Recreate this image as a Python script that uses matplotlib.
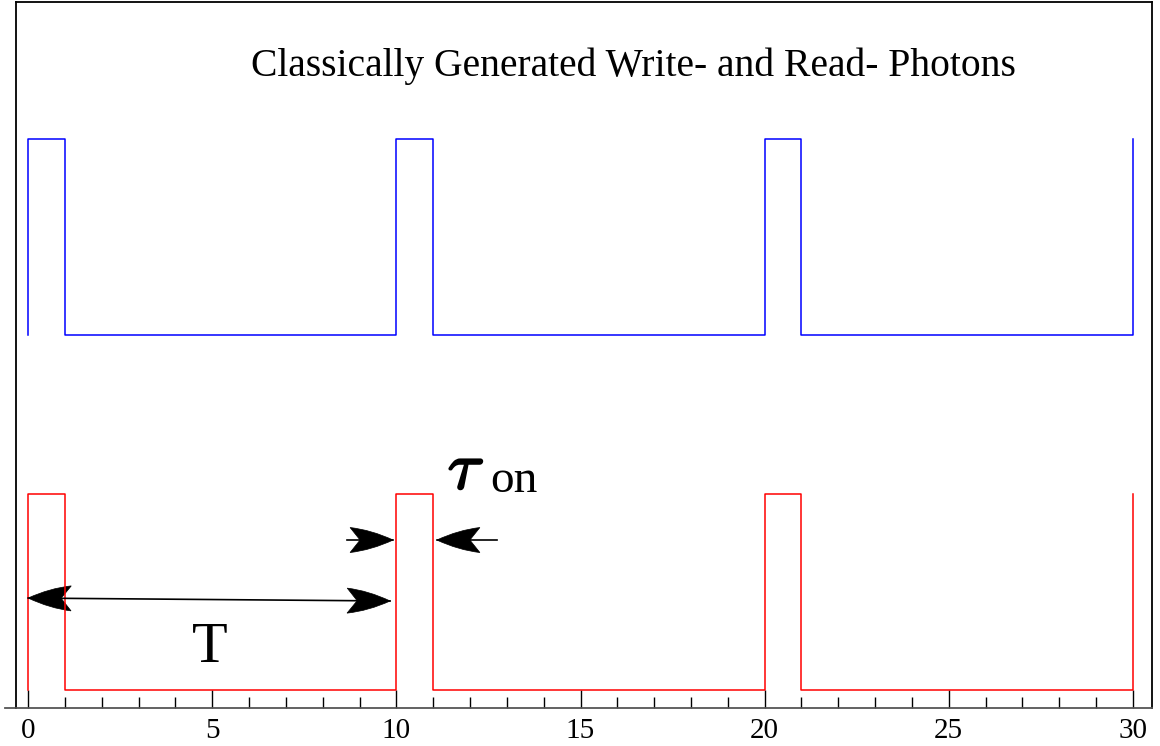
import matplotlib.pyplot as plt
import matplotlib.patheffects as pe
import numpy as np
from matplotlib.lines import Line2D
from matplotlib.patches import PathPatch
from matplotlib.path import Path
from matplotlib.transforms import Affine2D, ScaledTranslation

plt.rcParams["mathtext.fontset"] = "cm"

# Pulse trains: on for tau_on = 1 at the start of every period T = 10
edges = [0, 0, 1, 1, 10, 10, 11, 11, 20, 20, 21, 21, 30, 30]
levels = [0, 1, 1, 0, 0, 1, 1, 0, 0, 1, 1, 0, 0, 1]
write_offset = 1.81  # upper (blue) trace sits above the read pulses
read_offset = 0.0

title = "Classically Generated Write- and Read- Photons"
xticks = [0, 5, 10, 15, 20, 25, 30]

serif = "Liberation Serif"


def arrow(ax, tail, tip, both=False, length=43, half=12.5, notch=10):
    """Line with a swept (concave-backed) filled head, sized in pixels."""
    p0 = ax.transData.transform(tail)
    p1 = ax.transData.transform(tip)
    ang = np.arctan2(p1[1] - p0[1], p1[0] - p0[0])
    verts = [(0, 0), (-0.5 * length, 0.8 * half), (-length, half),
             (-length + notch, 0),
             (-length, -half), (-0.5 * length, -0.8 * half), (0, 0), (0, 0)]
    codes = [Path.MOVETO, Path.CURVE3, Path.CURVE3, Path.LINETO,
             Path.LINETO, Path.CURVE3, Path.CURVE3, Path.CLOSEPOLY]
    ends = [(tip, ang)] + ([(tail, ang + np.pi)] if both else [])
    for pt, a in ends:
        tr = Affine2D().rotate(a) + ScaledTranslation(pt[0], pt[1], ax.transData)
        ax.add_patch(PathPatch(Path(verts, codes), transform=tr, fc="black",
                               ec="black", lw=0.5))
    ax.plot([tail[0], tip[0]], [tail[1], tip[1]], color="black", lw=1.2)


fig = plt.figure(figsize=(11.6, 7.46), dpi=100)
ax = fig.add_axes([16 / 1160, 1 - 708 / 746, (1152 - 16) / 1160, (708 - 2) / 746])

ax.plot(edges, np.array(levels) + write_offset, color="blue", lw=1.1)
ax.plot(edges, np.array(levels) + read_offset, color="red", lw=1.1)

ax.set_xlim(-0.33, 30.52)
ax.set_ylim(-0.092, 3.51)

ax.set_xticks(xticks)
ax.set_xticks(np.arange(0, 31, 1), minor=True)
ax.set_yticks([])
ax.tick_params(axis="x", which="major", direction="in", length=13, width=1, pad=7)
ax.tick_params(axis="x", which="minor", direction="in", length=8, width=1)
for lab in ax.get_xticklabels():
    lab.set_fontfamily(serif)
    lab.set_fontsize(21)
for sp in ax.spines.values():
    sp.set_linewidth(1.3)
ax.spines["bottom"].set_color("#555555")
# bottom axis line runs a little past the left frame edge
ax.add_line(Line2D([-0.01, 0.0], [0, 0], transform=ax.transAxes, color="#555555",
                   lw=1.3, clip_on=False))

ax.text(16.43, 3.18, title, ha="center", va="center", fontsize=28.5, family=serif)

# Period arrow T
arrow(ax, (0.0, 0.469), (9.83, 0.454), both=True)
ax.text(4.94, 0.143, "T", ha="center", va="baseline", fontsize=42, family=serif)

# Pulse width arrows tau_on
arrow(ax, (8.66, 0.765), (9.91, 0.765))
arrow(ax, (12.73, 0.765), (11.1, 0.765))
ax.text(11.4, 1.026, r"$\tau$", ha="left", va="baseline", fontsize=48,
        path_effects=[pe.withStroke(linewidth=1.6, foreground="black")])
ax.text(12.54, 1.01, "on", ha="left", va="baseline", fontsize=34, family=serif)

fig.savefig("out.png", dpi=100)
